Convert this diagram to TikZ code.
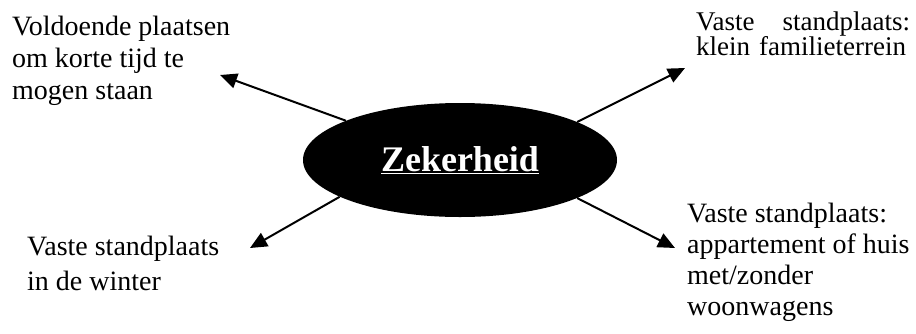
\documentclass[tikz,border=0pt]{standalone}
\usepackage{fontspec}
\setmainfont{Liberation Serif}
\usetikzlibrary{shapes.geometric, arrows.meta}

\begin{document}
\begin{tikzpicture}[x=1pt, y=-1pt,
    item/.style={inner sep=0pt, align=left, anchor=base west, font=\fontsize{28}{32}\selectfont},
    hub/.style={ellipse, fill=black, text=white, minimum width=314pt, minimum height=114pt, inner sep=0pt, font=\fontsize{36}{40}\selectfont\bfseries},
    arrow/.style={-{Triangle[length=17pt, width=15pt]}, line width=2pt}
]
\useasboundingbox (0,0) rectangle (916,333);

\node[hub] (zeker) at (460,160) {\underline{Zekerheid}};

% base anchor sits on the last line
\node[item] (kort) at (12,99) {Voldoende plaatsen\\om korte tijd te\\mogen staan};
\node[item, text width=214pt, font=\fontsize{27}{24}\selectfont] (familie) at (696,30) {Vaste\hfill standplaats:\\klein familieterrein};
\node[item, font=\fontsize{28}{35}\selectfont] (winter) at (27,290) {Vaste standplaats\\in de winter};
\node[item, font=\fontsize{28}{31}\selectfont] (huis) at (687,315) {Vaste standplaats:\\appartement of huis\\met/zonder\\woonwagens};

% arrow tips
\coordinate (pKort) at (220,75);
\coordinate (pFamilie) at (685,68);
\coordinate (pWinter) at (250,248);
\coordinate (pHuis) at (675,248);

\draw[arrow] (zeker.161) -- (pKort);
\draw[arrow] (zeker.18) -- (pFamilie);
\draw[arrow] (zeker.197) -- (pWinter);
\draw[arrow] (zeker.342) -- (pHuis);
\end{tikzpicture}
\end{document}
